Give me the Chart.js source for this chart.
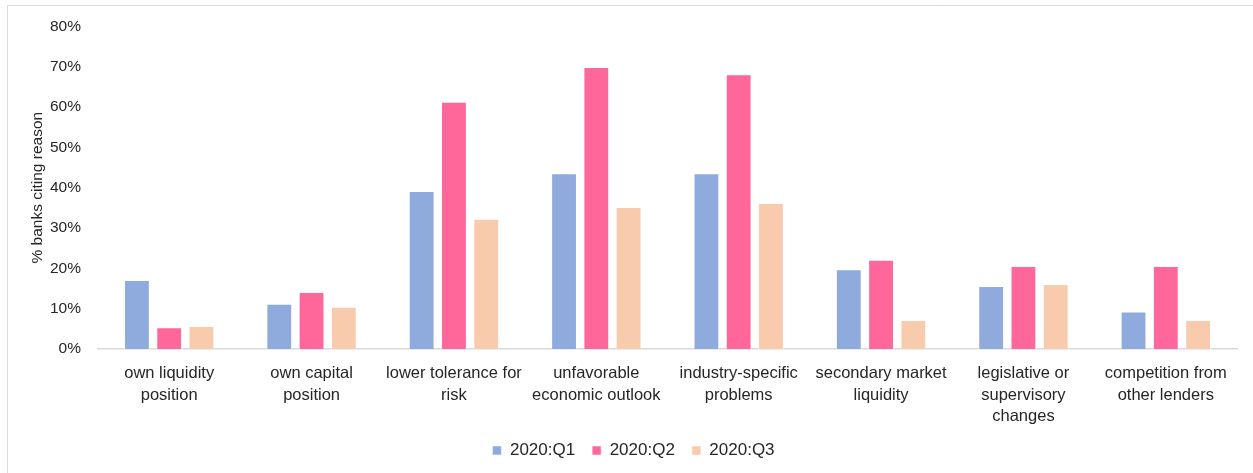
<!DOCTYPE html>
<html>
<head>
<meta charset="utf-8">
<script src="https://cdn.jsdelivr.net/npm/chart.js@4.4.1/dist/chart.umd.min.js"></script>
<style>
  html, body { margin: 0; padding: 0; background: #ffffff; }
  #wrap { width: 1253px; height: 473px; }
</style>
</head>
<body>
<div id="wrap"><canvas id="c" width="1253" height="473"></canvas></div>
<script>
// Reasons cited by banks for tightening lending standards
const categories = [
  ['own liquidity', 'position'],
  ['own capital', 'position'],
  ['lower tolerance for', 'risk'],
  ['unfavorable', 'economic outlook'],
  ['industry-specific', 'problems'],
  ['secondary market', 'liquidity'],
  ['legislative or', 'supervisory', 'changes'],
  ['competition from', 'other lenders']
];
const seriesNames = ['2020:Q1', '2020:Q2', '2020:Q3'];
const q1 = [17.1, 11.2, 39.2, 43.6, 43.6, 19.8, 15.6, 9.3];
const q2 = [5.4, 14.1, 61.3, 69.9, 68.1, 22.1, 20.6, 20.6];
const q3 = [5.7, 10.5, 32.3, 35.2, 36.2, 7.2, 16.1, 7.2];
const yTicks = [0, 10, 20, 30, 40, 50, 60, 70, 80];

const colors = ['#8faadc', '#ff6699', '#f8cbad'];
const FONT = "'Liberation Sans', Arial, sans-serif";
const TEXT = '#262626';

// light frame around the chart (left and top edges)
const framePlugin = {
  id: 'frame',
  beforeDraw(chart) {
    const ctx = chart.ctx;
    ctx.save();
    ctx.fillStyle = '#ffffff';
    ctx.fillRect(0, 0, chart.width, chart.height);
    ctx.strokeStyle = '#d9d9d9';
    ctx.lineWidth = 1;
    ctx.beginPath();
    ctx.moveTo(7.5, chart.height);
    ctx.lineTo(7.5, 5.5);
    ctx.lineTo(chart.width, 5.5);
    ctx.stroke();
    ctx.restore();
  }
};

const allSeries = [q1, q2, q3];
new Chart(document.getElementById('c'), {
  type: 'bar',
  data: {
    labels: categories,
    datasets: seriesNames.map((name, i) => ({
      label: name,
      data: allSeries[i],
      backgroundColor: colors[i],
      borderColor: 'rgba(255,255,255,0.55)',
      borderWidth: 1,
      categoryPercentage: 0.68,
      barPercentage: 0.8
    }))
  },
  options: {
    responsive: false,
    animation: false,
    layout: { padding: { left: 30, right: 16, top: 24, bottom: 4 } },
    plugins: {
      tooltip: { enabled: false },
      legend: {
        position: 'bottom',
        labels: {
          boxWidth: 9,
          boxHeight: 9,
          padding: 17,
          color: TEXT,
          font: { family: FONT, size: 17 }
        }
      }
    },
    scales: {
      x: {
        afterFit(scale) { scale.height = 76; },
        grid: { display: false, drawTicks: false },
        border: { display: true, color: '#d9d9d9', width: 1.5 },
        ticks: {
          color: TEXT,
          padding: 14,
          maxRotation: 0,
          minRotation: 0,
          autoSkip: false,
          font: { family: FONT, size: 16.5, lineHeight: 1.3 }
        }
      },
      y: {
        min: 0,
        max: 80,
        afterFit(scale) { scale.width = 68; },
        afterBuildTicks(scale) { scale.ticks = yTicks.map(v => ({ value: v })); },
        grid: { display: false, drawTicks: false },
        border: { display: false },
        title: {
          display: true,
          text: '% banks citing reason',
          color: TEXT,
          padding: { top: 0, bottom: 0 },
          font: { family: FONT, size: 15.5, lineHeight: 1.03 }
        },
        ticks: {
          color: TEXT,
          padding: 17,
          font: { family: FONT, size: 15.5 },
          callback: v => v + '%'
        }
      }
    }
  },
  plugins: [framePlugin]
});
</script>
</body>
</html>
